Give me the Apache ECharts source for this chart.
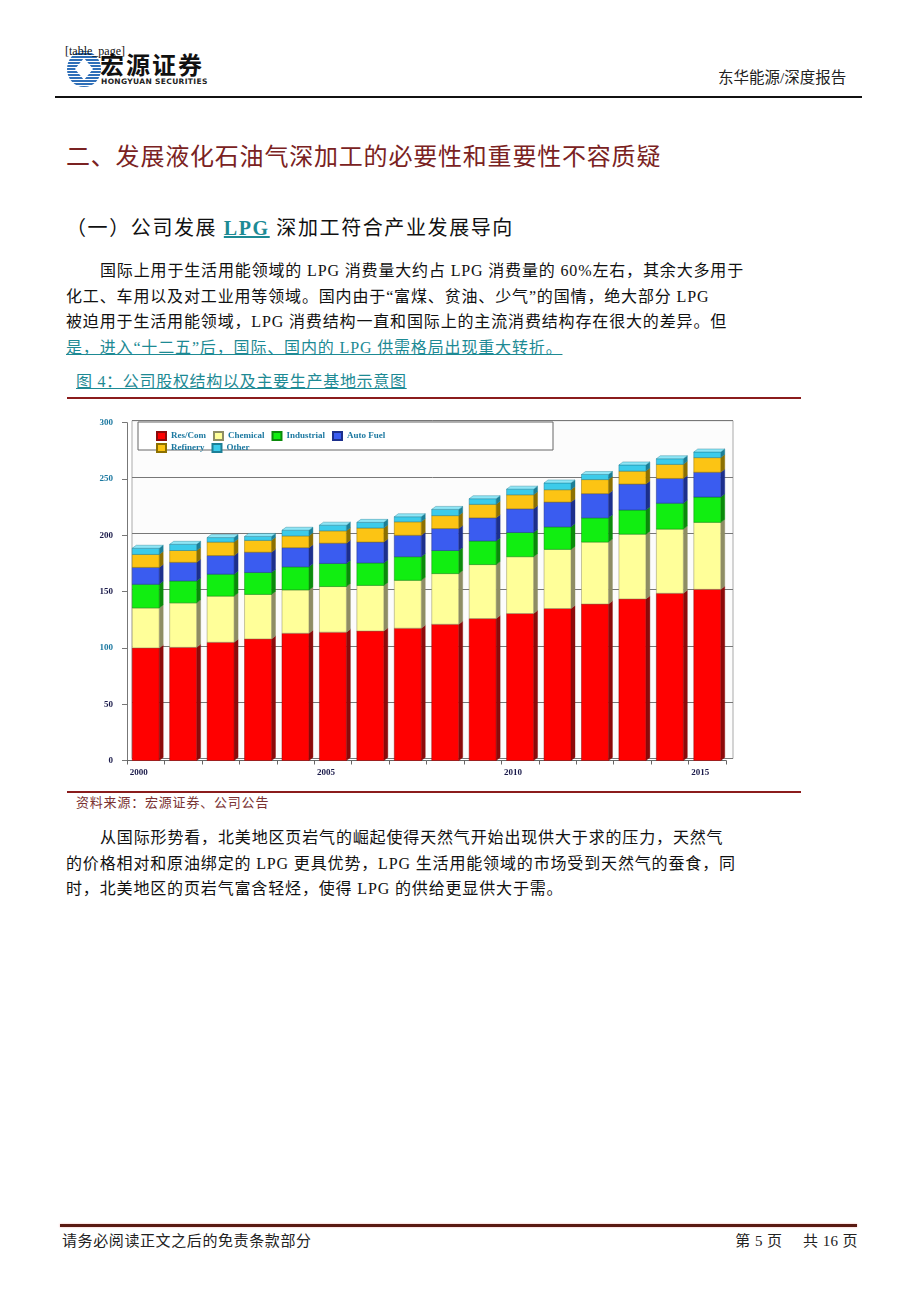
<!DOCTYPE html>
<html>
<head>
<meta charset="utf-8">
<script src="https://cdn.jsdelivr.net/npm/echarts@6/dist/echarts.min.js"></script>
<style>
  html, body { margin:0; padding:0; background:#fff; }
  body { width:920px; height:1301px; position:relative; overflow:hidden;
         font-family:"Liberation Serif","Noto Sans CJK SC",serif; color:#111; }
  .abs { position:absolute; white-space:nowrap; }
  .link { color:#1d8a94; text-decoration:underline; }
  .para { font-size:16px; line-height:25.7px; letter-spacing:0.85px; }
  #chart { position:absolute; left:60px; top:405px; width:750px; height:385px; }
</style>
</head>
<body>
<!-- header -->
<svg class="abs" style="left:66px;top:50px" width="36" height="38" viewBox="0 0 36 38">
  <defs>
    <pattern id="st" width="4" height="3" patternUnits="userSpaceOnUse">
      <rect width="4" height="2" fill="#2f6fb8"/>
    </pattern>
  </defs>
  <ellipse cx="18" cy="19" rx="17" ry="18" fill="url(#st)"/>
  <path d="M18 8 L27 19 L18 30 L9 19 Z" fill="#fff"/>
</svg>
<div class="abs" style="left:100px;top:51px;font-size:24px;font-weight:bold;font-family:'Noto Sans CJK SC';line-height:26px;letter-spacing:2px;color:#111">宏源证券</div>
<div class="abs" style="left:101px;top:78px;font-size:7.5px;font-weight:bold;font-family:'DejaVu Sans';line-height:8px;letter-spacing:0.35px;color:#222">HONGYUAN SECURITIES</div>
<div class="abs" style="left:65px;top:44px;font-size:12px;line-height:14px;color:#111">[table_page]</div>
<div class="abs" style="left:718px;top:69px;font-size:15.5px;line-height:18px;color:#222">东华能源/深度报告</div>
<div class="abs" style="left:55px;top:96px;width:807px;height:2px;background:#111"></div>

<!-- headings -->
<div class="abs" style="left:66px;top:144px;font-size:24px;line-height:26px;letter-spacing:0.8px;color:#7a2222">二、发展液化石油气深加工的必要性和重要性不容质疑</div>
<div class="abs" style="left:66px;top:217px;font-size:20px;line-height:22px;letter-spacing:1.6px;color:#111">（一）公司发展 <span class="link" style="font-weight:bold">LPG</span> 深加工符合产业发展导向</div>

<!-- paragraph 1 -->
<div class="abs para" style="left:100px;top:258px">国际上用于生活用能领域的 LPG 消费量大约占 LPG 消费量的 60%左右，其余大多用于</div>
<div class="abs para" style="left:66px;top:283.7px">化工、车用以及对工业用等领域。国内由于“富煤、贫油、少气”的国情，绝大部分 LPG</div>
<div class="abs para" style="left:66px;top:309.4px">被迫用于生活用能领域，LPG 消费结构一直和国际上的主流消费结构存在很大的差异。但</div>
<div class="abs para link" style="left:66px;top:335.1px">是，进入“十二五”后，国际、国内的 LPG 供需格局出现重大转折。</div>

<div class="abs link" style="left:76px;top:373px;font-size:16px;line-height:18px;letter-spacing:0.7px">图 4：公司股权结构以及主要生产基地示意图</div>
<div class="abs" style="left:67px;top:397px;width:734px;height:2px;background:#8b1c1c"></div>

<div id="chart"></div>

<div class="abs" style="left:67px;top:791px;width:734px;height:2px;background:#8b1c1c"></div>
<div class="abs" style="left:76px;top:795px;font-size:13px;line-height:16px;letter-spacing:0.8px;color:#7a3232">资料来源：宏源证券、公司公告</div>

<!-- paragraph 2 -->
<div class="abs para" style="left:100px;top:825px">从国际形势看，北美地区页岩气的崛起使得天然气开始出现供大于求的压力，天然气</div>
<div class="abs para" style="left:66px;top:850.7px">的价格相对和原油绑定的 LPG 更具优势，LPG 生活用能领域的市场受到天然气的蚕食，同</div>
<div class="abs para" style="left:66px;top:876.4px">时，北美地区的页岩气富含轻烃，使得 LPG 的供给更显供大于需。</div>

<!-- footer -->
<div class="abs" style="left:60px;top:1224px;width:797px;height:3px;background:#5a1a12;box-shadow:0 0 2px #f0a0a0"></div>
<div class="abs" style="left:62px;top:1232px;font-size:15px;line-height:18px;letter-spacing:0.6px;color:#222">请务必阅读正文之后的免责条款部分</div>
<div class="abs" style="right:62px;top:1232px;font-size:15px;line-height:18px;letter-spacing:0.4px;color:#222">第 5 页&nbsp;&nbsp;&nbsp;&nbsp;&nbsp;共 16 页</div>

<script>
// ---- data ----
const years      = ['2000','2001','2002','2003','2004','2005','2006','2007','2008','2009','2010','2011','2012','2013','2014','2015'];
const resCom     = [100, 100.5, 105, 108, 113, 114, 115, 117.5, 121, 126, 130.5, 135, 139, 143.5, 148.5, 152];
const chemical   = [35.5, 39.5, 41, 39.5, 38.5, 40.5, 40.5, 42.5, 45, 48, 50.5, 52.5, 55, 57.5, 57, 59.5];
const industrial = [21, 19.5, 19.5, 19.5, 20.5, 20.5, 20, 21, 20.5, 21, 21.5, 20, 21.5, 21.5, 23, 22.5];
const autoFuel   = [15, 16.5, 16.5, 18, 17, 18, 18.5, 19, 19.5, 20.5, 21, 22, 21.5, 23, 22, 22];
const refinery   = [11.5, 10.5, 12, 10.5, 10.5, 11, 12.5, 12, 11.5, 12, 12.5, 11, 12.5, 11.5, 12.5, 13];
const other      = [5.5, 5.5, 4, 3.5, 5, 5, 5, 4.5, 5.5, 5, 5, 6, 4.5, 5.5, 5, 5];
const seriesNames = ['Res/Com','Chemical','Industrial','Auto Fuel','Refinery','Other'];
const yTicks = [0, 50, 100, 150, 200, 250, 300];
const linkTicks = [100, 250, 300];

// ---- styles ----
const frontColors = ['#ff0000','#ffff99','#11ee11','#3a5cf0','#fcc414','#3ccbea'];
const sideColors  = ['#8c0a0a','#8e8d64','#0a8a0a','#1c2f8c','#8c7000','#1c7f96'];
const topColor = '#8fe6f6';

const seriesValues = [resCom, chemical, industrial, autoFuel, refinery, other];
const cum = years.map(() => 0);
const stacked = seriesValues.map(arr => arr.map((v, i) => {
  const b = cum[i]; cum[i] += v; return [i, b, cum[i]];
}));

const DX = 4, DY = 3;
function makeRender(k) {
  const isTop = k === seriesValues.length - 1;
  return function (params, api) {
    const i = api.value(0), b = api.value(1), t = api.value(2);
    const p0 = api.coord([i, b]);
    const p1 = api.coord([i, t]);
    const bw = api.size([1, 0])[0] * 0.72;
    const x = p0[0] - bw / 2;
    const yTop = p1[1], yBot = p0[1];
    const children = [
      { type: 'polygon', shape: { points: [[x + bw, yTop], [x + bw + DX, yTop - DY], [x + bw + DX, yBot - DY], [x + bw, yBot]] },
        style: { fill: sideColors[k], stroke: sideColors[k], lineWidth: 0.4 } },
      { type: 'rect', shape: { x: x, y: yTop, width: bw, height: yBot - yTop },
        style: { fill: frontColors[k], stroke: sideColors[k], lineWidth: 0.5 } }
    ];
    if (isTop) {
      children.push({ type: 'polygon', shape: { points: [[x, yTop], [x + DX, yTop - DY], [x + bw + DX, yTop - DY], [x + bw, yTop]] },
        style: { fill: topColor, stroke: sideColors[k], lineWidth: 0.4 } });
    }
    return { type: 'group', children };
  };
}

const chart = echarts.init(document.getElementById('chart'), null, { renderer: 'canvas' });
const FONT = 'Liberation Serif';
const legendText = { fontFamily: FONT, fontSize: 9, fontWeight: 'bold', color: '#1b78a0', width: 82, overflow: 'truncate' };

chart.setOption({
  animation: false,
  backgroundColor: '#fff',
  graphic: [
    { type: 'rect', z: 3, shape: { x: 78, y: 17, width: 415, height: 28 },
      style: { fill: '#fff', stroke: '#666', lineWidth: 1 } }
  ],
  legend: [
    { data: seriesNames.slice(0, 4), left: 91, top: 21, itemWidth: 9, itemHeight: 8, itemGap: 7,
      icon: 'rect', textStyle: legendText, z: 5, selectedMode: false },
    { data: seriesNames.slice(4), left: 91, top: 33, itemWidth: 9, itemHeight: 8, itemGap: 7,
      icon: 'rect', textStyle: legendText, z: 5, selectedMode: false }
  ],
  grid: [
    { left: 67, right: 84, top: 17.7, bottom: 29.5, containLabel: false },
    { left: 72, right: 77, top: 15.7, bottom: 31.5, containLabel: false, show: true,
      borderColor: '#aaa', borderWidth: 1, backgroundColor: '#fcfcfc', z: 0 }
  ],
  xAxis: [
    { type: 'category', data: years, gridIndex: 0,
      axisLine: { show: true, lineStyle: { color: '#666', width: 1 } },
      axisTick: { show: true, interval: 0, length: 4, lineStyle: { color: '#666' } },
      axisLabel: { interval: 4, margin: 8, padding: [0, 14, 0, 0], fontFamily: FONT, fontSize: 9,
        fontWeight: 'bold', color: '#1a1a4a' } },
    { type: 'category', data: years, gridIndex: 1, show: false }
  ],
  yAxis: [
    { type: 'value', gridIndex: 0, min: 0, max: 300, interval: 50,
      axisLine: { show: true, lineStyle: { color: '#777' } },
      axisTick: { show: true, length: 5, lineStyle: { color: '#777' } },
      splitLine: { show: false },
      axisLabel: { margin: 14, fontFamily: FONT, fontSize: 9, fontWeight: 'bold',
        formatter: v => (linkTicks.indexOf(v) >= 0 ? '{l|' + v + '}' : '{n|' + v + '}'),
        rich: { l: { color: '#1b78a0', fontFamily: FONT, fontSize: 9, fontWeight: 'bold' },
                n: { color: '#1a1a4a', fontFamily: FONT, fontSize: 9, fontWeight: 'bold' } } } },
    { type: 'value', gridIndex: 1, min: 0, max: 300, interval: 50,
      axisLine: { show: false }, axisTick: { show: false }, axisLabel: { show: false },
      splitLine: { show: true, lineStyle: { color: '#777', width: 1 } } }
  ],
  series: seriesNames.map((name, k) => ({
    name: name,
    type: 'custom',
    xAxisIndex: 0, yAxisIndex: 0,
    z: 2,
    itemStyle: { color: frontColors[k], borderColor: sideColors[k], borderWidth: 0.5 },
    renderItem: makeRender(k),
    encode: { x: 0, y: [1, 2] },
    data: stacked[k]
  }))
});
</script>
</body>
</html>
